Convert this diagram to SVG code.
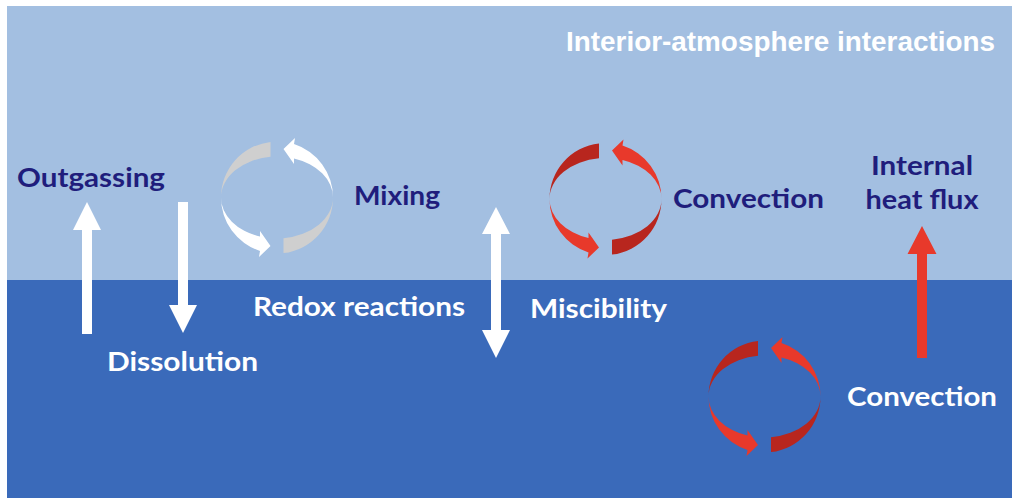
<svg xmlns="http://www.w3.org/2000/svg" xmlns:xlink="http://www.w3.org/1999/xlink" width="1012" height="498" viewBox="0 0 1012 498">
  <style>
    .lbl { font-family: Lato, "Open Sans", "Liberation Sans", sans-serif; font-weight: 700; font-size: 26px; }
    .navy { fill: #201D7C; }
    .white { fill: #FFFFFF; }
    .title { font-family: "Liberation Sans", Arial, sans-serif; font-weight: 700; font-size: 27px; fill: #FFFFFF; }
    .wa { fill: #FFFFFF; }
    .ra { fill: #E8392B; }
  </style>
  <defs>
    <path id="ringBack" d="M -6.5 -55.6 A 56 56 0 0 0 -56 0 A 56 41 0 0 1 -6.5 -40.7 Z M 6.5 55.6 A 56 56 0 0 0 56 0 A 56 41 0 0 1 6.5 40.7 Z"/>
    <path id="ringFront" d="M -56 0 A 56 56 0 0 0 -17 53.4 L -18 59.5 L -6.5 48.5 L -17 33.5 L -17 39 A 56 41 0 0 1 -56 0 Z M 56 0 A 56 56 0 0 0 17 -53.4 L 18 -59.5 L 6.5 -48.5 L 17 -33.5 L 17 -39 A 56 41 0 0 1 56 0 Z"/>
  </defs>

  <rect x="0" y="0" width="1012" height="498" fill="#FFFFFF"/>
  <rect x="7" y="6" width="1005" height="274" fill="#A3BFE1"/>
  <rect x="7" y="280" width="1005" height="218" fill="#3A6ABA"/>

  <text class="title" x="995" y="51" text-anchor="end" textLength="429" lengthAdjust="spacingAndGlyphs">Interior-atmosphere interactions</text>

  <g id="mixing-cycle">
    <g transform="translate(277,197.5)">
      <use xlink:href="#ringBack" fill="#CFCFCF"/>
      <use xlink:href="#ringFront" fill="#FFFFFF"/>
    </g>
    <text class="lbl navy" x="354" y="205" textLength="86" lengthAdjust="spacingAndGlyphs">Mixing</text>
  </g>

  <g id="atm-convection">
    <g transform="translate(605.5,199)">
      <use xlink:href="#ringBack" fill="#B8261E"/>
      <use xlink:href="#ringFront" fill="#E8392B"/>
    </g>
    <text class="lbl navy" x="673" y="208" textLength="151" lengthAdjust="spacingAndGlyphs">Convection</text>
  </g>

  <g id="int-convection">
    <g transform="translate(764.5,396.5)">
      <use xlink:href="#ringBack" fill="#B8261E"/>
      <use xlink:href="#ringFront" fill="#E8392B"/>
    </g>
    <text class="lbl white" x="847" y="406" textLength="150" lengthAdjust="spacingAndGlyphs">Convection</text>
  </g>

  <g id="outgassing">
    <text class="lbl navy" x="17" y="187" textLength="148" lengthAdjust="spacingAndGlyphs">Outgassing</text>
  </g>
  <g id="dissolution">
    <text class="lbl white" x="107" y="371" textLength="151" lengthAdjust="spacingAndGlyphs">Dissolution</text>
  </g>
  <g id="redox">
    <text class="lbl white" x="253" y="316" textLength="212" lengthAdjust="spacingAndGlyphs">Redox reactions</text>
  </g>
  <g id="miscibility">
    <text class="lbl white" x="530" y="318" textLength="137" lengthAdjust="spacingAndGlyphs">Miscibility</text>
  </g>
  <g id="heat-flux">
    <text class="lbl navy" x="922" y="175" text-anchor="middle" textLength="102" lengthAdjust="spacingAndGlyphs">Internal</text>
    <text class="lbl navy" x="922" y="209" text-anchor="middle" textLength="113" lengthAdjust="spacingAndGlyphs">heat flux</text>
  </g>

  <g id="arrows">
    <polygon class="wa" points="82,334 92,334 92,230 101,230 87,202 73,230 82,230"/>
    <polygon class="wa" points="178,202 188,202 188,305 197,305 183,333 169,305 178,305"/>
    <polygon class="wa" points="496,207 510,234 501,234 501,330 510,330 496,358 482,330 491,330 491,234 482,234"/>
    <polygon class="ra" points="917,358 927,358 927,254 936.5,254 922,226 907.5,254 917,254"/>
  </g>
</svg>
